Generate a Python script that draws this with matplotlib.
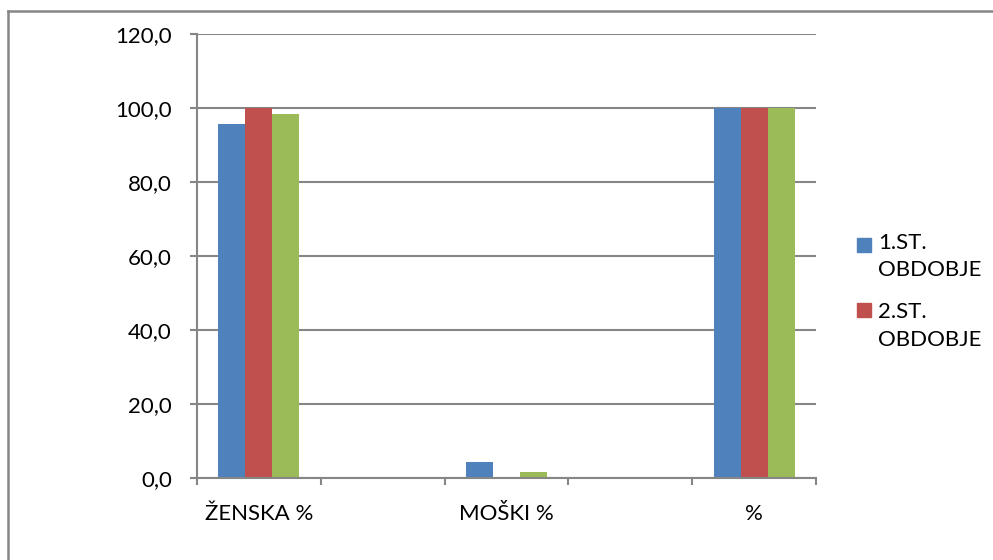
import matplotlib
matplotlib.use("Agg")
import matplotlib.pyplot as plt
import numpy as np
from matplotlib.patches import Rectangle
from matplotlib.lines import Line2D

plt.rcParams['font.family'] = ['Lato', 'DejaVu Sans']

categories = ['ŽENSKA %', '', 'MOŠKI %', '', '%']
series_names = ['1.ST. OBDOBJE', '2.ST. OBDOBJE', '3.ST. OBDOBJE']
s1 = [95.8, np.nan, 4.2, np.nan, 100.0]
s2 = [100.0, np.nan, 0.0, np.nan, 100.0]
s3 = [98.4, np.nan, 1.6, np.nan, 100.0]
colors = ['#4F81BD', '#C0504D', '#9BBB59']
yticks = [0, 20, 40, 60, 80, 100, 120]

FS = 16
W, H = 993, 560
fig = plt.figure(figsize=(W/100, H/100), dpi=100)
ax = fig.add_axes([197/W, 1-478/H, (816-197)/W, (478-34)/H])

x = np.arange(len(categories))
w = 0.218
for i, (vals, c) in enumerate(zip([s1, s2, s3], colors)):
    v = np.array(vals, dtype=float)
    ax.bar(x + (i-1)*w, np.nan_to_num(v), width=w, color=c, zorder=3,
           label=series_names[i])

ax.set_xlim(-0.5, len(categories)-0.5)
ax.set_ylim(0, 120)
ax.set_yticks(yticks)
ax.set_yticklabels([f"{t:.1f}".replace('.', ',') for t in yticks], fontsize=FS)
ax.set_xticks(x)
ax.set_xticklabels(categories, fontsize=FS)
ax.set_xticks(np.arange(len(categories)+1)-0.5, minor=True)
ax.tick_params(axis='x', which='major', length=0, pad=19)
ax.tick_params(axis='x', which='minor', length=5, width=1.5, color='#868686', direction='out')
ax.tick_params(axis='y', length=5, width=1.5, color='#868686', pad=13)
ax.grid(axis='y', color='#868686', linewidth=1.5, zorder=0)
for s in ['top', 'right']:
    ax.spines[s].set_visible(False)
for s in ['left', 'bottom']:
    ax.spines[s].set_color('#868686')
    ax.spines[s].set_linewidth(1.5)
ax.spines['bottom'].set_zorder(4)

# legend (only two entries visible in the reference)
leg_y = [(245, 243, 270), (310, 312, 340)]
for i, (py, ty1, ty2) in enumerate(leg_y):
    fig.add_artist(Rectangle((857/W, 1-(py+7)/H), 14/W, 14/H, color=colors[i],
                             transform=fig.transFigure))
    first, second = series_names[i].split(' ')
    fig.text(878/W, 1-ty1/H, first, fontsize=FS, va='center', ha='left')
    fig.text(878/W, 1-ty2/H, second, fontsize=FS, va='center', ha='left')

# outer chart frame
fig.add_artist(Line2D([8/W, 8/W], [0, 1-11/H], color='#868686', lw=1.8, transform=fig.transFigure))
fig.add_artist(Line2D([8/W, 1], [1-11/H, 1-11/H], color='#868686', lw=1.8, transform=fig.transFigure))

fig.savefig('out.png', dpi=100)
